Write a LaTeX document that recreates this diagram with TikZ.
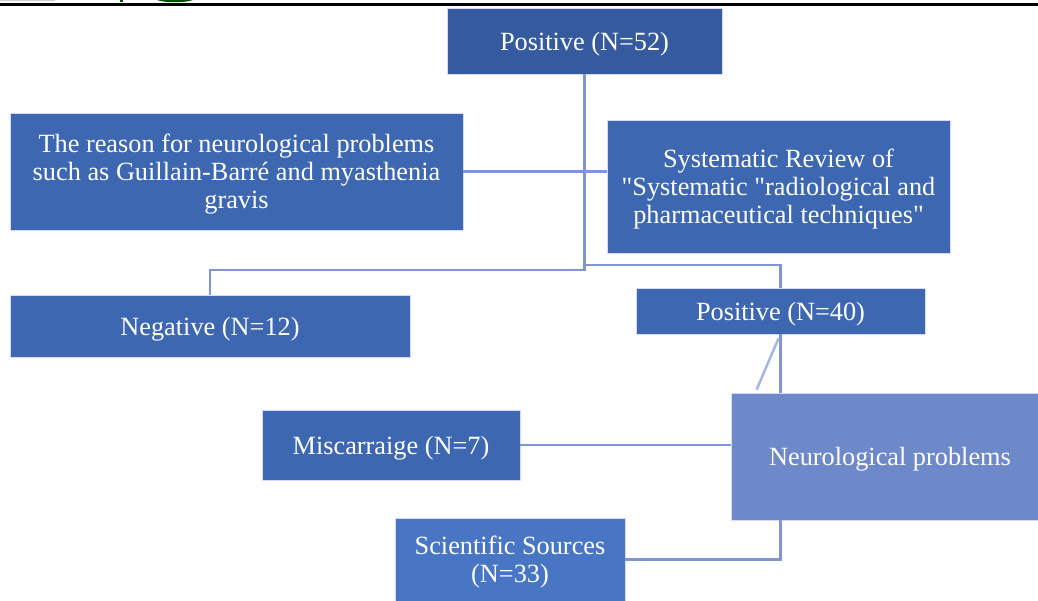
\documentclass[tikz,border=0pt]{standalone}
\usepackage{fontspec}
\setmainfont{Liberation Serif}
\newcommand\qd{\XeTeXglyph\XeTeXglyphindex "quotedbl"\relax}
\begin{document}
\begin{tikzpicture}[x=1pt,y=-1pt,
  box/.style={draw=white!85!blue,line width=0.8pt,fill=boxblue,text=white,align=center,inner sep=0pt,
    text depth=0pt,font=\fontsize{26.3}{28}\selectfont},
  conn/.style={draw=connblue,line width=2.5pt},
  diag/.style={draw=diagblue,line width=2.5pt}]
\definecolor{boxblue}{HTML}{3D67B1}
\definecolor{topblue}{HTML}{355A9E}
\definecolor{neublue}{HTML}{6E89CA}
\definecolor{sciblue}{HTML}{4876C4}
\definecolor{connblue}{HTML}{7F96D2}
\definecolor{diagblue}{HTML}{A6B6E0}
\useasboundingbox (0,0) rectangle (1038,601);
% top rule and header fragments
\fill[gray!40] (0,0) rectangle (55,1.5);
\fill[black!70!green] (120,0) rectangle (123,2);
\fill[green!30!black] (157,0) .. controls (165,3) and (185,3) .. (193,0) -- cycle;
\draw[black,line width=3pt] (0,5) -- (1038,5);
% junction points
\coordinate (jl) at (584.5,270);
\coordinate (jr) at (584.5,265);
% boxes
\node[box,fill=topblue,minimum width=275,minimum height=66] (top) at (584.5,41) {Positive (N=52)};
\node[box,minimum width=453,minimum height=117] (reason) at (236.5,171.5) {The reason for neurological problems\\such as Guillain-Barré and myasthenia\\gravis};
\node[box,minimum width=343,minimum height=133] (sysrev) at (778.5,186.5) {Systematic Review of\\\qd Systematic \qd radiological and\\pharmaceutical techniques\qd};
\node[box,minimum width=400,minimum height=62] (neg) at (210,326) {Negative (N=12)};
\node[box,minimum width=289,minimum height=46] (pos) at (780.5,311) {Positive (N=40)};
\node[box,fill=neublue,minimum width=307,minimum height=127] (neuro) at (884.5,456.5) {\hspace*{11pt}Neurological problems};
\node[box,minimum width=258,minimum height=70] (misc) at (391,445) {Miscarraige (N=7)};
\node[box,fill=sciblue,minimum width=230,minimum height=83] (sci) at (510,559.5) {Scientific Sources\\(N=33)};
% connectors
\draw[conn] (top.south) -- (jl) -| (neg.north);
\draw[conn] (jr) -| (pos.north);
\draw[conn] (reason.east) -- (reason.east -| sysrev.west);
\draw[conn] (pos.south) -- (pos.south |- neuro.north);
\draw[diag] ([xshift=-2pt,yshift=-4pt]pos.south) -- ([xshift=26pt,yshift=3pt]neuro.north west);
\draw[conn] (misc.east) -- (misc.east -| neuro.west);
\draw[conn] (sci.east) -| (neuro.south -| pos.south);
\end{tikzpicture}
\end{document}
